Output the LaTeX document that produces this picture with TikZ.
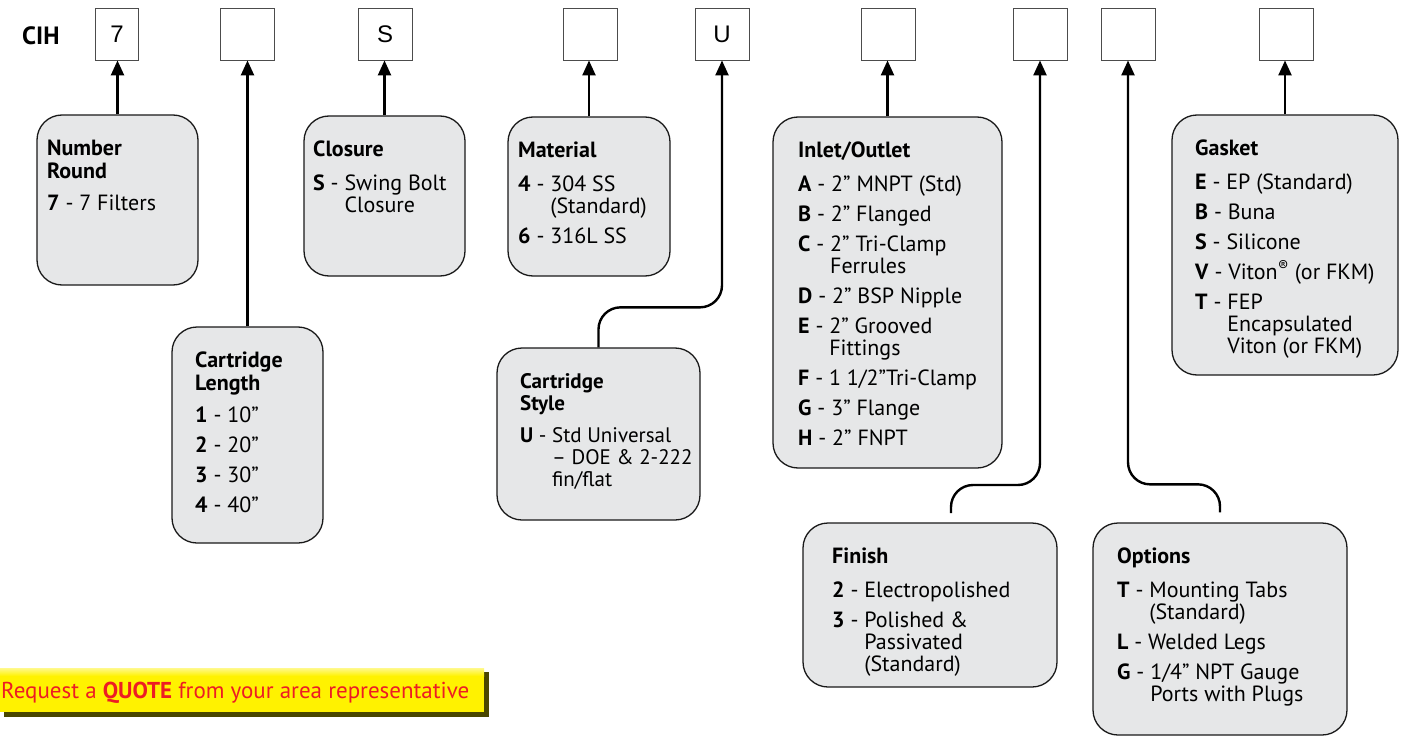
\documentclass[tikz,border=0pt]{standalone}
\usepackage{fontspec}
\setmainfont{PT Sans}
\newfontfamily\codefont{Liberation Sans}
\usetikzlibrary{arrows.meta}

\definecolor{boxgray}{HTML}{E6E7E8}
\definecolor{quotered}{HTML}{ED1C24}
\definecolor{quoteyellow}{HTML}{FFF200}
\definecolor{quoteshadow}{HTML}{4A4700}
\newcommand\optfont{\fontsize{22}{22}\selectfont}
\newcommand\hd[1]{\textbf{\strut #1}}
\newcommand\ind[1]{\phantom{\textbf{#1} - }}

\begin{document}
\begin{tikzpicture}[x=1pt,y=-1pt,
  codebox/.style={draw=black!70,line width=0.9pt,minimum width=54pt,minimum height=52pt,inner sep=0pt,font=\codefont\fontsize{24}{26}\selectfont},
  optbox/.style={draw=black!90,line width=1.3pt,fill=boxgray,rounded corners=25pt,inner sep=0pt},
  opttext/.style={anchor=north west,inner sep=0pt,align=left,font=\optfont},
  link/.style={line width=2.4pt,-{Triangle[length=15pt,width=13pt]}},
  bentlink/.style={link,rounded corners=22pt}]
  \useasboundingbox (0,0) rectangle (1405,741);

  % code squares along the top
  \node[font=\fontsize{25}{28}\selectfont\bfseries,anchor=west,inner sep=0pt] (cih) at (22,36) {CIH};
  \node[codebox,minimum width=43pt] (c1) at (117,34) {7};
  \node[codebox] (c2) at (247,34) {};
  \node[codebox] (c3) at (385,34) {S};
  \node[codebox] (c4) at (590,34) {};
  \node[codebox] (c5) at (722,34) {U};
  \node[codebox] (c6) at (888,34) {};
  \node[codebox] (c7) at (1040,34) {};
  \node[codebox] (c8) at (1128,34) {};
  \node[codebox] (c9) at (1286,34) {};

  % option boxes
  \node[optbox,minimum width=161pt,minimum height=170pt] (numround) at (117.5,200) {};
  \node[opttext] (numroundtxt) at (47,140) {\hd{Number}\\\textbf{Round}\\[10pt]\textbf{7} - 7 Filters};

  \node[optbox,minimum width=151pt,minimum height=216pt] (length) at (247.5,435) {};
  \node[opttext] (lengthtxt) at (195,352) {\hd{Cartridge}\\\textbf{Length}\\[10pt]\textbf{1} - 10”\\[8pt]\textbf{2} - 20”\\[8pt]\textbf{3} - 30”\\[8pt]\textbf{4} - 40”};

  \node[optbox,minimum width=161pt,minimum height=160pt] (closure) at (384.5,196) {};
  \node[opttext] (closuretxt) at (313,141) {\hd{Closure}\\[10pt]\textbf{S} - Swing Bolt\\\ind{S}Closure};

  \node[optbox,minimum width=162pt,minimum height=159pt] (material) at (589,196.5) {};
  \node[opttext] (materialtxt) at (518,142) {\hd{Material}\\[10pt]\textbf{4} - 304 SS\\\ind{4}(Standard)\\[8pt]\textbf{6} - 316L SS};

  \node[optbox,minimum width=203pt,minimum height=172pt] (style) at (598.5,434) {};
  \node[opttext,font=\fontsize{21}{22}\selectfont] (styletxt) at (520,373) {\hd{Cartridge}\\\textbf{Style}\\[10pt]\textbf{U} - Std Universal\\\ind{U}– DOE \& 2-222\\\ind{U}fin/flat};

  \node[optbox,minimum width=229pt,minimum height=351pt] (inlet) at (887.5,292.5) {};
  \node[opttext] (inlettxt) at (798,142) {\hd{Inlet/Outlet}\\[10pt]\textbf{A} - 2” MNPT (Std)\\[8pt]\textbf{B} - 2” Flanged\\[8pt]\textbf{C} - 2” Tri-Clamp\\\ind{C}Ferrules\\[8pt]\textbf{D} - 2” BSP Nipple\\[8pt]\textbf{E} - 2” Grooved\\\ind{E}Fittings\\[8pt]\textbf{F} - 1 1/2”Tri-Clamp\\[8pt]\textbf{G} - 3” Flange\\[8pt]\textbf{H} - 2” FNPT};

  \node[optbox,minimum width=254pt,minimum height=164pt] (finish) at (930,605) {};
  \node[opttext] (finishtxt) at (832,548) {\hd{Finish}\\[10pt]\textbf{2} - Electropolished\\[8pt]\textbf{3} - Polished \&\\\ind{3}Passivated\\\ind{3}(Standard)};

  \node[optbox,minimum width=254pt,minimum height=212pt] (options) at (1220,629) {};
  \node[opttext] (optionstxt) at (1117,548) {\hd{Options}\\[10pt]\textbf{T} - Mounting Tabs\\\ind{T}(Standard)\\[8pt]\textbf{L} - Welded Legs\\[8pt]\textbf{G} - 1/4” NPT Gauge\\\ind{G}Ports with Plugs};

  \node[optbox,minimum width=226pt,minimum height=260pt] (gasket) at (1285,245) {};
  \node[opttext] (gaskettxt) at (1195,140) {\hd{Gasket}\\[10pt]\textbf{E} - EP (Standard)\\[8pt]\textbf{B} - Buna\\[8pt]\textbf{S} - Silicone\\[8pt]\textbf{V} - Viton\textsuperscript{®} (or FKM)\\[8pt]\textbf{T} - FEP\\\ind{T}Encapsulated\\\ind{T}Viton (or FKM)};

  % straight arrows
  \draw[link] (numround.north) -- (numround.north |- c1.south);
  \draw[link] (length.north) -- (length.north |- c2.south);
  \draw[link] (closure.north) -- (closure.north |- c3.south);
  \draw[link] (material.north) -- (material.north |- c4.south);
  \draw[link] (inlet.north) -- (inlet.north |- c6.south);
  \draw[link] (gasket.north) -- (gasket.north |- c9.south);

  % bent arrows
  \coordinate (finend) at (951,513);
  \coordinate (optend) at ([yshift=10pt]options.north);
  \draw[bentlink] (style.north) -- ++(0,-40) -| (c5.south);
  \draw[bentlink] (finend) -- ++(0,-28) -| (c7.south);
  \draw[bentlink] (optend) -- ++(0,-28) -| (c8.south);

  % quote bar
  \fill[quoteshadow] (4,672) rectangle (489,717);
  \fill[quoteyellow] (0,668) rectangle (484,712);
  \shade[top color=quoteyellow!45!white,bottom color=quoteyellow] (0,668) rectangle (484,676);
  \node[anchor=base west,inner sep=0pt,text=quotered,font=\fontsize{23}{25}\selectfont] (quote) at (1,698) {Request a \textbf{QUOTE} from your area representative};
\end{tikzpicture}
\end{document}
